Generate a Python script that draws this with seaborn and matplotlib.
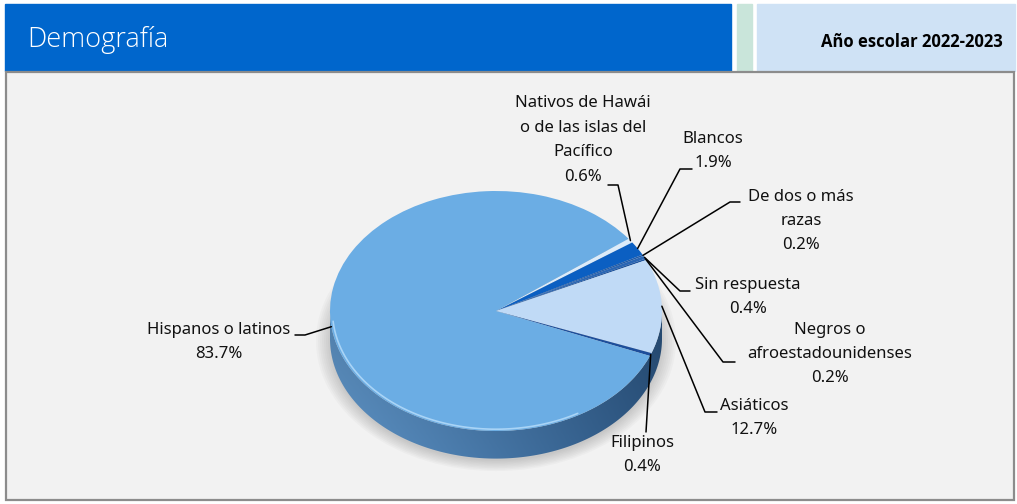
import numpy as np
import matplotlib
matplotlib.use("Agg")
import matplotlib.pyplot as plt
from matplotlib.patches import Rectangle, Ellipse, Polygon
import seaborn as sns

# datos: orden de los sectores en el sentido del reloj
groups = ["Nativos de Hawái\no de las islas del\nPacífico", "Blancos", "De dos o más\nrazas",
          "Sin respuesta", "Negros o\nafroestadounidenses", "Asiáticos", "Filipinos",
          "Hispanos o latinos"]
shares = [0.6, 1.9, 0.2, 0.4, 0.2, 12.7, 0.4, 83.7]
title = "Demografía"
school_year = "Año escolar 2022-2023"

sns.set_style("white")
plt.rcParams["font.family"] = ["Noto Sans", "DejaVu Sans"]

top_colors = ["#dcebf9", "#0b5fc2", "#1f5aa8", "#2a66b4", "#1c54a0", "#c0daf6", "#1d4e9b", "#6badE4"]

# label layout in pixel coords: text centre, elbow, end of short horizontal
label_pos = [(583, 140), (713, 151), (801, 221), (748, 297), (830, 354), (754, 418), (642, 455), (219, 342)]
elbows = [(618, 185), (680, 169), (730, 202), (680, 291), (723, 362), (705, 412), (646, 432), (305, 335)]
ends = [(608, 185), (692, 169), (740, 202), (690, 291), (735, 362), (717, 412), (646, 432), (295, 335)]

W, H = 1017, 504
fig = plt.figure(figsize=(W / 100, H / 100), dpi=100)

bg = fig.add_axes([0, 0, 1, 1], zorder=0)
bg.set_xlim(0, W)
bg.set_ylim(H, 0)
bg.axis("off")
bg.add_patch(Rectangle((5, 4), 726, 67, color="#0066cc"))
bg.add_patch(Rectangle((737, 4), 15, 67, color="#c9e5da"))
bg.add_patch(Rectangle((757, 4), 258, 67, color="#cfe2f5"))
bg.add_patch(Rectangle((6, 72), 1008, 428, facecolor="#f2f2f2", edgecolor="#8c8c8c", lw=1.6))
bg.text(27, 40, title, color="white", fontsize=19.5, va="center", ha="left",
        fontweight="light", family=["Open Sans", "DejaVu Sans"])
bg.text(1003, 42, school_year, color="black", fontsize=12, va="center", ha="right",
        fontweight="bold", family=["Open Sans", "DejaVu Sans"])

# pie geometry (pixels)
cx, cy, rx, ry, d, pad = 496, 311, 166, 120, 0.23, 0.12
left = cx - (1 + pad) * rx
top = cy - (1 + pad) * ry
wpx = 2 * (1 + pad) * rx
hpx = (2 + d + 2 * pad) * ry
ax = fig.add_axes([left / W, 1 - (top + hpx) / H, wpx / W, hpx / H], zorder=1)

# soft shadow
for k in range(8):
    s = 1.0 + 0.012 * k
    ax.add_patch(Ellipse((0.0, -d - 0.02), 2 * s, 2 * s, color="#555555", alpha=0.035, lw=0, zorder=0))

# side of the disc
t = np.linspace(np.pi, 2 * np.pi, 200)
side_pts = np.concatenate([np.c_[np.cos(t), np.sin(t) - d], np.c_[np.cos(t[::-1]), np.sin(t[::-1])]])
side = Polygon(side_pts, closed=True, facecolor="none", edgecolor="none")
ax.add_patch(side)
c_left = np.array(matplotlib.colors.to_rgb("#5f95c8"))
c_right = np.array(matplotlib.colors.to_rgb("#2b5480"))
gx = np.linspace(0, 1, 256)[None, :, None]
gy = np.linspace(0.85, 1.0, 30)[:, None, None]
grad = (c_left * (1 - gx) + c_right * gx) * gy
img = ax.imshow(grad, extent=(-1, 1, -1 - d, 0), origin="upper", aspect="auto", zorder=1)
img.set_clip_path(side)

wedges, _ = ax.pie(shares, colors=top_colors, startangle=37, counterclock=False, radius=1,
                   center=(0, 0), wedgeprops=dict(linewidth=0))
for w in wedges:
    w.set_zorder(2)

# light rim on the front edge of the top face
ta = np.linspace(np.deg2rad(185), np.deg2rad(300), 100)
ax.plot(0.985 * np.cos(ta), 0.985 * np.sin(ta), color="#b9defb", lw=1.2, alpha=0.8, zorder=3)

ax.set_aspect("auto")
ax.set_xlim(-1 - pad, 1 + pad)
ax.set_ylim(-1 - d - pad, 1 + pad)
ax.axis("off")

fg = fig.add_axes([0, 0, 1, 1], zorder=2)
fg.set_xlim(0, W)
fg.set_ylim(H, 0)
fg.axis("off")
fg.patch.set_alpha(0)

to_fg = ax.transData + fg.transData.inverted()
for w, name, val, tp, el, en in zip(wedges, groups, shares, label_pos, elbows, ends):
    mid = np.deg2rad((w.theta1 + w.theta2) / 2)
    axp, ayp = to_fg.transform((np.cos(mid), np.sin(mid)))
    fg.plot([axp, el[0], en[0]], [ayp, el[1], en[1]], color="black", lw=1.1)
    fg.text(tp[0], tp[1], f"{name}\n{val:.1f}%", ha="center", va="center", fontsize=12,
            linespacing=1.7, color="#111111")

fig.savefig("out.png", dpi=100)
